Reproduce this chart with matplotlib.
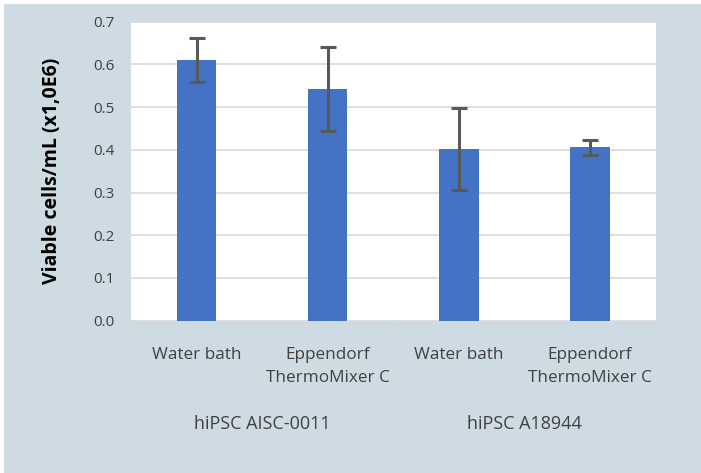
import matplotlib
matplotlib.use("Agg")
import matplotlib.pyplot as plt
from matplotlib.patches import Rectangle
from matplotlib.lines import Line2D
import matplotlib.transforms as mtransforms

categories = ["Water bath", "Eppendorf\nThermoMixer C", "Water bath", "Eppendorf\nThermoMixer C"]
groups = ["hiPSC AISC-0011", "hiPSC A18944"]
values = [0.610, 0.543, 0.402, 0.406]
errors = [0.051, 0.098, 0.095, 0.018]
yticks = [0.0, 0.1, 0.2, 0.3, 0.4, 0.5, 0.6, 0.7]
ylabel = "Viable cells/mL (x1,0E6)"

W, H = 701, 473
BG = "#CEDBE3"
TXT = "#404040"
FONT = ["Open Sans", "DejaVu Sans"]
plt.rcParams["font.family"] = FONT

fig = plt.figure(figsize=(W / 100, H / 100), dpi=100, facecolor="white")
fig.patches.append(Rectangle((4 / W, 0), 1 - 4 / W, 1 - 4 / H, transform=fig.transFigure,
                             facecolor=BG, edgecolor="none", zorder=-10))

left, right = 131 / W, 655.7 / W
top, bottom = 1 - 21.7 / H, 1 - 320.7 / H
ax = fig.add_axes([left, bottom, right - left, top - bottom])
ax.set_facecolor("white")

x = list(range(len(values)))
ax.bar(x, values, width=0.3, color="#4472C4", zorder=3)
ax.errorbar(x, values, yerr=errors, fmt="none", ecolor="#595959", elinewidth=2.2,
            capsize=5.5, capthick=2.2, zorder=4)

ax.set_xlim(-0.5, len(values) - 0.5)
ax.set_ylim(0, 0.7)
ax.set_yticks(yticks)
ax.set_yticklabels([f"{v:.1f}" for v in yticks], fontsize=11, color=TXT)
ax.yaxis.grid(True, color="#D9D9D9", linewidth=1.2, zorder=0)
ax.set_axisbelow(True)
for s in ax.spines.values():
    s.set_visible(False)
ax.tick_params(axis="y", length=0, pad=12)
ax.tick_params(axis="x", length=0, pad=19)
ax.set_xticks(x)
ax.set_xticklabels(categories, fontsize=12.3, color=TXT, va="top", linespacing=1.6)

ax.text(52 / W, (top + bottom) / 2, ylabel, transform=fig.transFigure, rotation=90,
        ha="center", va="center", fontsize=14, fontweight="bold", color="black")

trans = mtransforms.blended_transform_factory(ax.transData, fig.transFigure)
for gi, g in enumerate(groups):
    cx = gi * 2 + 0.5
    ax.text(cx, 1 - 424 / H, g, transform=trans, ha="center", va="center",
            fontsize=13, color=TXT)

for xs in [-0.5, 1.5, 3.5]:
    fig.add_artist(Line2D([xs, xs], [1 - 321 / H, 1 - 440 / H], transform=trans,
                          color="#D9D9D9", linewidth=1.2))

fig.savefig("out.png", dpi=100, facecolor=fig.get_facecolor())
